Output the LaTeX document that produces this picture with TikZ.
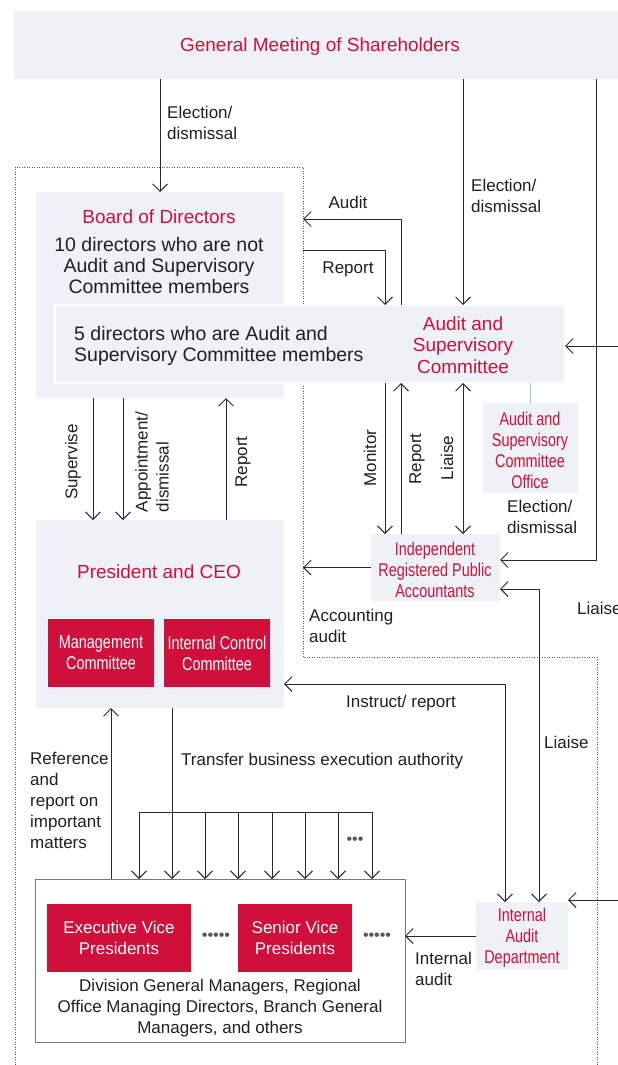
\documentclass[tikz,border=0pt]{standalone}
\usepackage{fontspec}
\setmainfont{Liberation Sans}
\newfontfamily\narrowf[FakeStretch=0.78]{Liberation Sans}
\usetikzlibrary{arrows.meta}
\definecolor{brand}{HTML}{D0103A}
\definecolor{pale}{HTML}{EEF2F6}
\definecolor{ink}{HTML}{231F20}
\definecolor{linec}{HTML}{2A2A2A}
\definecolor{linkblue}{HTML}{A9BED8}
\definecolor{dotc}{HTML}{555555}
\definecolor{framec}{HTML}{777777}
\begin{document}
\begin{tikzpicture}[x=1pt,y=-1pt,
  panel/.style={fill=pale, draw=none, inner sep=0pt, outer sep=0pt, anchor=north west},
  redbox/.style={fill=brand, text=white, inner sep=0pt, outer sep=0pt, anchor=north west, align=center},
  bigf/.style={font=\fontsize{19.5}{21}\selectfont},
  smallf/.style={font=\fontsize{17}{21}\selectfont},
  narrowsmall/.style={font=\narrowf\fontsize{18.5}{21}\selectfont},
  title/.style={font=\fontsize{19}{21.5}\selectfont, text=brand, align=center, inner sep=0pt},
  lbl/.style={smallf, text=ink, inner sep=0pt, align=left},
  conn/.style={draw=linec, line width=0.9pt},
  arr/.style={conn, -{Straight Barb[length=7.5pt,width=15pt]}},
  darr/.style={conn, {Straight Barb[length=7.5pt,width=15pt]}-{Straight Barb[length=7.5pt,width=15pt]}},
  bound/.style={draw=dotc, line width=0.8pt, dash pattern=on 0.8pt off 1.7pt},
  dotsty/.style={text=dotc, font=\fontsize{16}{16}\selectfont, inner sep=0pt}
]
\fill[white] (0,0) rectangle (618,1065);
\clip (0,0) rectangle (618,1065);

% dotted boundary
\coordinate (dBL) at (15,1070);
\coordinate (dTL) at (15,167);
\coordinate (dTR) at (303,167);
\coordinate (dMR) at (303,657);
\coordinate (dMR2) at (597,657);
\coordinate (dBR) at (597,1070);
\draw[bound] (dBL) -- (dTL) -- (dTR) -- (dMR) -- (dMR2) -- (dBR);

% General meeting
\node[panel, minimum width=610pt, minimum height=68pt] (gm) at (14,11) {};
\node[title] (gmt) at (320,47) {General Meeting of Shareholders};

% Board of directors
\node[panel, minimum width=248pt, minimum height=206pt] (board) at (36,192) {};
\node[title] (boardt) at (159,217) {Board of Directors};
\node[bigf, text=ink, align=center, inner sep=0pt] (boardtx) at (159,266) {10 directors who are not\\Audit and Supervisory\\Committee members};

% Audit and supervisory committee
\node[panel, draw=white, line width=2pt, minimum width=510pt, minimum height=78pt] (asc) at (55,305) {};
\node[bigf, text=ink, align=left, inner sep=0pt, anchor=west] (asctx) at (74,346) {5 directors who are Audit and\\Supervisory Committee members};
\node[title] (asct) at (463,345) {Audit and\\Supervisory\\Committee};

% ASC office
\node[panel, minimum width=95pt, minimum height=90pt] (asco) at (483,403) {};
\node[narrowsmall, text=brand, align=center, inner sep=0pt] (ascot) at (530,450) {Audit and\\Supervisory\\Committee\\Office};
\draw[linkblue, line width=1.6pt] (asc.south -| asco.north) -- (asco.north);

% Independent registered public accountants
\node[panel, minimum width=129pt, minimum height=67pt] (irpa) at (371,534) {};
\node[narrowsmall, text=brand, align=center, inner sep=0pt] (irpat) at (435,570) {Independent\\Registered Public\\Accountants};

% President and CEO
\node[panel, minimum width=248pt, minimum height=188pt] (pres) at (36,520) {};
\node[title] (prest) at (159,572) {President and CEO};
\node[redbox, narrowsmall, minimum width=106pt, minimum height=68pt] (mgmt) at (48,619) {Management\\Committee};
\node[redbox, narrowsmall, minimum width=106pt, minimum height=68pt] (icc) at (164,619) {Internal Control\\Committee};

% Executives
\node[fill=white, draw=framec, line width=1pt, inner sep=0pt, outer sep=0pt, anchor=north west, minimum width=370pt, minimum height=163pt] (exec) at (35,879) {};
\node[redbox, smallf, minimum width=144pt, minimum height=68pt] (evp) at (47,904) {Executive Vice\\Presidents};
\node[redbox, smallf, minimum width=114pt, minimum height=68pt] (svp) at (238,904) {Senior Vice\\Presidents};
\node[dotsty] (dots1) at (216,937) {•••••};
\node[dotsty] (dots2) at (377,937) {•••••};
\node[lbl, align=center] (divt) at (220,1008) {Division General Managers, Regional\\Office Managing Directors, Branch General\\Managers, and others};

% Internal audit department
\node[panel, minimum width=92pt, minimum height=68pt] (iad) at (476,902) {};
\node[narrowsmall, text=brand, align=center, inner sep=0pt] (iadt) at (522,938) {Internal\\Audit\\Department};

% ---- connectors ----
\draw[arr] (gm.south -| board.north) -- (board.north);
\node[lbl, anchor=west] (l1) at (167,123) {Election/\\dismissal};

\coordinate (auditEnd) at (dTR |- 0,219);
\draw[arr] (asc.north -| 401,0) |- (auditEnd);
\node[lbl] (l2) at (348,202) {Audit};

\coordinate (reportStart) at (dTR |- 0,250);
\draw[arr] (reportStart) -| (asc.north -| 385,0);
\node[lbl] (l3) at (348,269) {Report};

\draw[arr] (gm.south -| 463,0) -- (asc.north -| 463,0);
\node[lbl, anchor=west] (l4) at (471,196) {Election/\\dismissal};

\draw[arr] (gm.south -| 596,0) |- (irpa.east |- 0,560);
\node[lbl, anchor=west] (l5) at (507,517) {Election/\\dismissal};

\coordinate (ascIn) at (620,346);
\draw[arr] (ascIn) -- (asc.east |- ascIn);

\draw[arr] (asc.south -| 385,0) -- (irpa.north -| 385,0);
\node[lbl, rotate=90] (l6) at (370,458) {Monitor};
\draw[arr] (irpa.north -| 401,0) -- (asc.south -| 401,0);
\node[lbl, rotate=90] (l7) at (417,459) {Report};
\draw[darr] (asc.south -| 463,0) -- (irpa.north -| 463,0);
\node[lbl, rotate=90] (l8) at (447,458) {Liaise};

\draw[arr] (irpa.west) -- (irpa.west -| dMR);
\node[lbl, anchor=west] (l9) at (309,626) {Accounting\\audit};

\draw[darr] (irpa.east |- 0,589) -| (iad.north -| 539,0);
\node[lbl, anchor=west] (l10) at (544,742) {Liaise};
\node[lbl, anchor=west] (l11) at (577,608) {Liaise};

\coordinate (iadIn) at (620,900);
\draw[arr] (iadIn) -- (iad.east |- iadIn);

\draw[darr] (pres.east |- 0,684) -| (iad.north -| 505,0);
\node[lbl] (l12) at (401,703) {Instruct/ report};

\draw[arr] (board.south -| 93,0) -- (pres.north -| 93,0);
\node[lbl, rotate=90] (l13) at (73,462) {Supervise};
\draw[arr] (board.south -| 123,0) -- (pres.north -| 123,0);
\node[lbl, rotate=90, align=left] (l14) at (152,462) {Appointment/\\dismissal};
\draw[arr] (pres.north -| 226,0) -- (board.south -| 226,0);
\node[lbl, rotate=90] (l15) at (243,462) {Report};

\draw[arr] (exec.north -| 111,0) -- (pres.south -| 111,0);
\node[lbl, anchor=west] (l16) at (30,800) {Reference\\and\\report on\\important\\matters};

\draw[arr] (pres.south -| 172,0) -- (exec.north -| 172,0);
\coordinate (barL) at (139,812);
\coordinate (barR) at (372,812);
\draw[conn] (barL) -- (barR);
\foreach \xx in {139,205,238,272,305,338,372} {
  \draw[arr] (\xx,812) -- (exec.north -| \xx,0);
}
\node[dotsty] (dots3) at (355,841) {•••};
\node[lbl, anchor=west] (l17) at (181,761) {Transfer business execution authority};

\draw[arr] (iad.west) -- (iad.west -| exec.east);
\node[lbl, anchor=west] (l18) at (415,969) {Internal\\audit};
\end{tikzpicture}
\end{document}
